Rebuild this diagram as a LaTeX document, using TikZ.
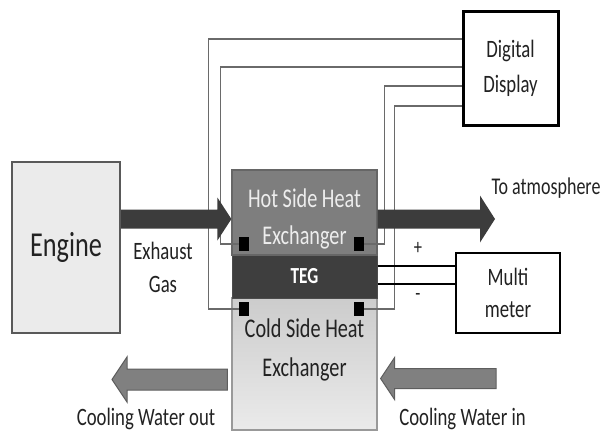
\documentclass[tikz,border=0pt]{standalone}
\usepackage{fontspec}
\setmainfont{Carlito}[FakeStretch=0.75]
\usetikzlibrary{calc}
\definecolor{wire}{HTML}{6A6A6A}
\definecolor{darkarrow}{HTML}{3C3C3C}
\definecolor{hotfill}{HTML}{7E7E7E}
\definecolor{tegfill}{HTML}{3E3E3E}
\definecolor{coolgray}{HTML}{808080}
\definecolor{coolborder}{HTML}{5E5E5E}
\definecolor{txt}{HTML}{222222}
% #1 style, #2 tail, #3 tip, #4 half shaft, #5 half head, #6 head length (negative when pointing left)
\newcommand{\hArrow}[6]{%
  \path[#1] let \p1=(#2), \p2=(#3), \n1={#6} in
    ({\x1},{\y1+#4}) -- ({\x2-\n1},{\y1+#4}) -- ({\x2-\n1},{\y1+#5}) -- ({\x2},{\y1})
    -- ({\x2-\n1},{\y1-#5}) -- ({\x2-\n1},{\y1-#4}) -- ({\x1},{\y1-#4}) -- cycle;}
\tikzset{
  wirel/.style={draw=wire, line width=1.3pt},
  padsq/.style={fill=black, draw=none, minimum width=10pt, minimum height=14pt, inner sep=0pt},
  lbl/.style={inner sep=0pt, align=center, text=txt},
  darkfat/.style={fill=darkarrow},
  coolfat/.style={fill=coolgray, draw=coolborder, line width=1pt},
  whitebox/.style={draw=black, fill=white, inner sep=0pt, align=center, text=txt},
}
\begin{document}
\begin{tikzpicture}[x=1pt,y=-1pt]
\useasboundingbox (0,0) rectangle (608,432);

% boxes
\node[draw=black!65, fill=black!8, line width=2pt, minimum width=108pt, minimum height=171pt, inner sep=0pt, text=txt,
  font=\fontsize{35}{42}\selectfont] (engine) at (66,247.5) {Engine};
\node[whitebox, line width=3pt, minimum width=95pt, minimum height=114pt,
  font=\fontsize{25}{35}\selectfont] (disp) at (510.5,68) {Digital\\Display};
\node[whitebox, line width=2.5pt, minimum width=104pt, minimum height=80pt,
  font=\fontsize{25}{32}\selectfont] (multi) at (508,293) {Multi\\meter};

\node[draw=black!40, top color=black!20, bottom color=black!8, line width=1.2pt,
  minimum width=145pt, minimum height=132pt, inner sep=0pt] (cold) at (304.5,364) {};
\node[draw=black!70, fill=tegfill, line width=1pt, minimum width=145pt, minimum height=43pt, inner sep=0pt,
  text=white, font=\bfseries\fontsize{23}{28}\selectfont] (teg) at (304.5,276.5) {TEG};
\node[draw=black!60, fill=hotfill, line width=1.2pt, minimum width=145pt, minimum height=85pt, inner sep=0pt] (hot) at (304.5,212.5) {};

\node[lbl, text=white!93!black, font=\fontsize{27}{37}\selectfont] (hottext) at (304.5,219) {Hot Side Heat\\Exchanger};
\node[lbl, font=\fontsize{27}{39}\selectfont] (coldtext) at (304.5,350) {Cold Side Heat\\Exchanger};

% terminal pads
\node[padsq] (sq1) at (244,244) {};
\node[padsq] (sq2) at (358.5,244) {};
\node[padsq] (sq3) at (244,309) {};
\node[padsq] (sq4) at (359,309) {};

% wires to digital display
\draw[wirel] (disp.west |- 0,39) -| ([xshift=-30pt]sq3.west) -- (sq3.west);
\draw[wirel] (disp.west |- 0,67) -| ([xshift=-18pt]sq1.west) -- (sq1.west);
\draw[wirel] (disp.west |- 0,86) -| ([xshift=21pt]sq2.east) -- (sq2.east);
\draw[wirel] (disp.west |- 0,106) -| ([xshift=30pt]sq4.east) -- (sq4.east);

% multimeter leads
\draw[line width=2.5pt] (teg.east |- 0,266) -- (multi.west |- 0,266);
\draw[line width=2.5pt] (teg.east |- 0,284) -- (multi.west |- 0,284);
\node[lbl, font=\fontsize{22}{26}\selectfont] (plus) at (418,248) {+};
\node[lbl, font=\fontsize{22}{26}\selectfont] (minus) at (418,297) {-};

% fat arrows
\coordinate (atm) at (495,219);
\coordinate (wout) at (112,379.5);
\coordinate (win) at (496,378.5);
\coordinate (cwl) at ($(cold.west |- 0,379.5)+(-4,0)$);
\coordinate (cwr) at ($(cold.east |- 0,378.5)+(3,0)$);
\coordinate (ex1) at (engine.east |- 0,219);
\coordinate (ex2) at (hot.west |- 0,219);
\coordinate (ho1) at (hot.east |- 0,219);
\hArrow{darkfat}{ex1}{ex2}{9.5}{21.5}{14}
\hArrow{darkfat}{ho1}{atm}{9.5}{23.5}{15}
\hArrow{coolfat}{cwl}{wout}{10.5}{22.5}{-15}
\hArrow{coolfat}{win}{cwr}{10}{21}{-14}

% labels
\node[lbl, font=\fontsize{25}{33}\selectfont] (exh) at (163,267) {Exhaust\\Gas};
\node[lbl, font=\fontsize{24}{28}\selectfont] (atmtext) at (546,188) {To atmosphere};
\node[lbl, font=\fontsize{25}{30}\selectfont] (cwout) at (146,419) {Cooling Water out};
\node[lbl, font=\fontsize{25}{30}\selectfont] (cwin) at (462.5,419) {Cooling Water in};
\end{tikzpicture}
\end{document}
